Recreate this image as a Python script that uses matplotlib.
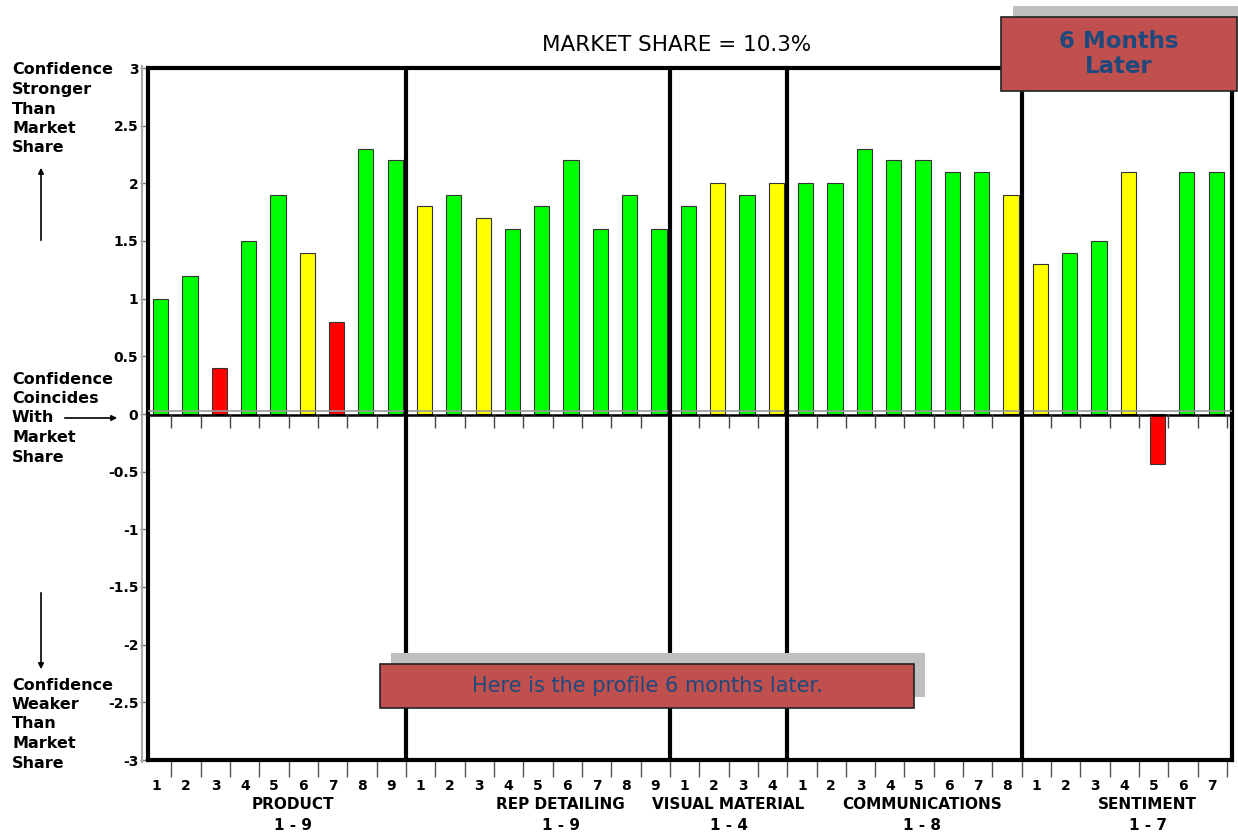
import matplotlib
matplotlib.use("Agg")

import matplotlib.pyplot as plt
from matplotlib.lines import Line2D
from matplotlib.patches import Rectangle

# Data: one value per factor, grouped by section
groups = ["PRODUCT", "REP DETAILING", "VISUAL MATERIAL", "COMMUNICATIONS", "SENTIMENT"]
group_sizes = [9, 9, 4, 8, 7]

product = [1.0, 1.2, 0.4, 1.5, 1.9, 1.4, 0.8, 2.3, 2.2]
rep_detailing = [1.8, 1.9, 1.7, 1.6, 1.8, 2.2, 1.6, 1.9, 1.6]
visual_material = [1.8, 2.0, 1.9, 2.0]
communications = [2.0, 2.0, 2.3, 2.2, 2.2, 2.1, 2.1, 1.9]
sentiment = [1.3, 1.4, 1.5, 2.1, -0.43, 2.1, 2.1]

product_colors = ["g", "g", "r", "g", "g", "y", "r", "g", "g"]
rep_colors = ["y", "g", "y", "g", "g", "g", "g", "g", "g"]
visual_colors = ["g", "y", "g", "y"]
comm_colors = ["g", "g", "g", "g", "g", "g", "g", "y"]
sentiment_colors = ["y", "g", "g", "y", "r", "g", "g"]

title = "MARKET SHARE = 10.3%"
y_ticks = [3, 2.5, 2, 1.5, 1, 0.5, 0, -0.5, -1, -1.5, -2, -2.5, -3]

side_notes = [
    ["Confidence", "Stronger", "Than", "Market", "Share"],
    ["Confidence", "Coincides", "With", "Market", "Share"],
    ["Confidence", "Weaker", "Than", "Market", "Share"],
]

palette = {"g": "#00FF00", "y": "#FFFF00", "r": "#FF0000"}
values = product + rep_detailing + visual_material + communications + sentiment
colors = [palette[c] for c in
          product_colors + rep_colors + visual_colors + comm_colors + sentiment_colors]

W, H = 1238, 834
fig = plt.figure(figsize=(W / 100, H / 100), dpi=100)
fig.patch.set_facecolor("white")

# axes placed in pixel terms
ax_left, ax_right, ax_top, ax_bottom = 148, 1232, 68, 760
ax = fig.add_axes([ax_left / W, (H - ax_bottom) / H,
                   (ax_right - ax_left) / W, (ax_bottom - ax_top) / H])

n = len(values)
xs = [i + 0.63 for i in range(n)]
ax.bar(xs, values, width=0.52, color=colors, edgecolor="#333333", linewidth=0.8, zorder=3)

ax.set_xlim(0.2, 37.17)
ax.set_ylim(-3, 3)

# zero line (double: grey + black)
ax.axhline(0.03, color="#999999", lw=1.2, zorder=4)
ax.axhline(-0.01, color="black", lw=1.8, zorder=4)

# small ticks hanging off the zero line
boundaries = list(range(1, n + 1))
ax.vlines(boundaries, -0.12, 0, color="#444444", lw=1, zorder=4)

# group separators
pos = 0
for size in group_sizes[:-1]:
    pos += size
    ax.axvline(pos, color="black", lw=3, zorder=5)

for side in ["left", "right", "top", "bottom"]:
    ax.spines[side].set_linewidth(3)
    ax.spines[side].set_color("black")

# x ticks: marks at slot boundaries, numbers at slot centers
ax.set_xticks(list(range(1, n + 1)))
ax.set_xticklabels([])
ax.tick_params(axis="x", which="major", direction="out", length=12, width=1,
               color="#555555")
labels = []
for size in group_sizes:
    labels += [str(k + 1) for k in range(size)]
ax.set_xticks([i + 0.5 for i in range(n)], minor=True)
ax.set_xticklabels(labels, minor=True, fontsize=10, fontweight="bold")
ax.tick_params(axis="x", which="minor", length=0, pad=14)

ax.set_yticks(y_ticks)
ax.set_yticklabels([f"{t:g}" for t in y_ticks], fontsize=10, fontweight="bold")
ax.tick_params(axis="y", direction="out", length=6, width=1, color="#777777", pad=1)

# grey outline line just left of the axis
fig.add_artist(Line2D([142 / W, 142 / W], [(H - 762) / H, (H - 66) / H],
                      color="#aaaaaa", lw=1.5))

fig.text(677 / W, 1 - 45 / H, title, ha="center", va="center", fontsize=15.5)

# group labels below axis
label_x = [5.15, 14.27, 20.0, 26.6, 34.3]
for name, size, lx in zip(groups, group_sizes, label_x):
    ax.text(lx, -3.39, name, ha="center", va="center", fontsize=11, fontweight="bold")
    ax.text(lx, -3.57, f"1 - {size}", ha="center", va="center", fontsize=11,
            fontweight="bold")

# side annotations, one text per line
block_tops = [70, 379, 685]
for lines, top in zip(side_notes, block_tops):
    for k, line in enumerate(lines):
        fig.text(12 / W, 1 - (top + 19.5 * k) / H, line, fontsize=11.5,
                 fontweight="bold", ha="left", va="center")

arrow_kw = dict(arrowstyle="-|>", color="black", lw=1.2, mutation_scale=8)
ax.annotate("", xy=(41 / W, 1 - 165 / H), xytext=(41 / W, 1 - 243 / H),
            xycoords="figure fraction", arrowprops=arrow_kw)
ax.annotate("", xy=(41 / W, 1 - 672 / H), xytext=(41 / W, 1 - 590 / H),
            xycoords="figure fraction", arrowprops=arrow_kw)
ax.annotate("", xy=(120 / W, 1 - 418 / H), xytext=(62 / W, 1 - 418 / H),
            xycoords="figure fraction", arrowprops=arrow_kw)

# callout boxes with shadows
box_face = "#C0504D"
text_col = "#1F497D"


def callout(x0, y0, x1, y1, dx, dy, text, size, weight):
    shadow = Rectangle(((x0 + dx) / W, 1 - (y1 + dy) / H), (x1 - x0) / W, (y1 - y0) / H,
                       transform=fig.transFigure, facecolor="#BFBFBF", edgecolor="none",
                       zorder=10)
    fig.add_artist(shadow)
    box = Rectangle((x0 / W, 1 - y1 / H), (x1 - x0) / W, (y1 - y0) / H,
                    transform=fig.transFigure, facecolor=box_face, edgecolor="#222222",
                    lw=1.2, zorder=11)
    fig.add_artist(box)
    fig.text((x0 + x1) / 2 / W, 1 - (y0 + y1) / 2 / H, text, ha="center", va="center",
             fontsize=size, fontweight=weight, color=text_col, zorder=12,
             linespacing=1.15)


callout(1001, 17, 1237, 91, 12, -11, "6 Months\nLater", 16.5, "bold")
callout(380, 664, 914, 708, 11, -11, "Here is the profile 6 months later.", 15, "normal")

fig.savefig("out.png", dpi=100)
